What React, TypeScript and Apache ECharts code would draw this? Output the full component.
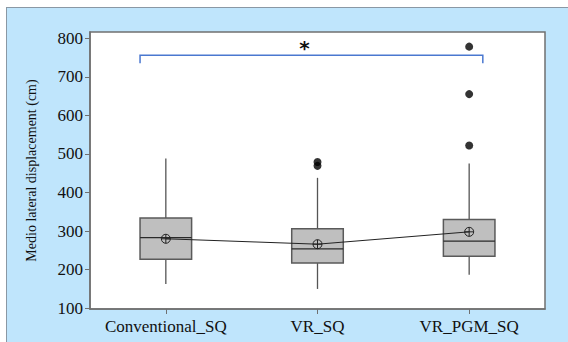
import React, { useEffect, useRef } from "react";
import * as echarts from "echarts";

const categories = ["Conventional_SQ", "VR_SQ", "VR_PGM_SQ"];
const whiskerLow = [163, 150, 187];
const q1 = [227, 217, 235];
const median = [283, 254, 274];
const q3 = [334, 306, 330];
const whiskerHigh = [488, 438, 475];
const means = [280, 266, 298];
const outliers: [number, number][] = [
  [1, 479],
  [1, 469],
  [2, 522],
  [2, 655],
  [2, 778],
];
const yTicks = [100, 200, 300, 400, 500, 600, 700, 800];
const bracketTop = 756;
const bracketBottom = 735;
const bracketLabel = "*";

const SERIF = "Liberation Serif";

export default function App() {
  const ref = useRef<HTMLDivElement>(null);

  useEffect(() => {
    if (!ref.current) return;
    const chart = echarts.init(ref.current, undefined, { renderer: "svg" });

    const boxData = categories.map((_, i) => [
      i,
      whiskerLow[i],
      q1[i],
      median[i],
      q3[i],
      whiskerHigh[i],
    ]);

    chart.setOption({
      animation: false,
      textStyle: { fontFamily: SERIF },
      grid: {
        left: 90,
        top: 32,
        right: 23,
        bottom: 33,
        show: true,
        backgroundColor: "#ffffff",
        borderColor: "#707070",
        borderWidth: 1.5,
      },
      xAxis: {
        type: "category",
        data: categories,
        boundaryGap: true,
        axisLine: { show: true, lineStyle: { color: "#707070", width: 1.5 } },
        axisTick: {
          show: true,
          alignWithLabel: true,
          length: 5,
          lineStyle: { color: "#707070" },
        },
        axisLabel: {
          fontFamily: SERIF,
          fontSize: 17,
          color: "#111",
          margin: 9,
          interval: 0,
          hideOverlap: false,
        },
        splitLine: { show: false },
      },
      yAxis: {
        type: "value",
        min: 98,
        max: 816,
        name: "Medio lateral displacement (cm)",
        nameLocation: "middle",
        nameGap: 52,
        nameTextStyle: { fontFamily: SERIF, fontSize: 14, color: "#111" },
        axisLine: { show: true, lineStyle: { color: "#707070", width: 1.5 } },
        axisTick: {
          show: true,
          length: 5,
          customValues: yTicks,
          lineStyle: { color: "#707070" },
        },
        axisLabel: {
          fontFamily: SERIF,
          fontSize: 17,
          color: "#111",
          margin: 7,
          customValues: yTicks,
        },
        splitLine: { show: false },
      },
      series: [
        {
          type: "custom",
          data: boxData,
          encode: { x: 0, y: [1, 2, 3, 4, 5] },
          z: 2,
          renderItem: (params: any, api: any) => {
            const idx = api.value(0);
            const cx = api.coord([idx, api.value(3)])[0];
            const band = api.size([1, 0])[0];
            const w = band * 0.34;
            const yLow = api.coord([idx, api.value(1)])[1];
            const yQ1 = api.coord([idx, api.value(2)])[1];
            const yMed = api.coord([idx, api.value(3)])[1];
            const yQ3 = api.coord([idx, api.value(4)])[1];
            const yHigh = api.coord([idx, api.value(5)])[1];
            const ws = { stroke: "#555", lineWidth: 1.3 };
            return {
              type: "group",
              children: [
                { type: "line", shape: { x1: cx, y1: yQ1, x2: cx, y2: yLow }, style: ws },
                { type: "line", shape: { x1: cx, y1: yQ3, x2: cx, y2: yHigh }, style: ws },
                {
                  type: "rect",
                  shape: { x: cx - w / 2, y: yQ3, width: w, height: yQ1 - yQ3 },
                  style: { fill: "#bfbfbf", stroke: "#5a5a5a", lineWidth: 1.5 },
                },
                {
                  type: "line",
                  shape: { x1: cx - w / 2, y1: yMed, x2: cx + w / 2, y2: yMed },
                  style: { stroke: "#2a2a2a", lineWidth: 1.2 },
                },
              ],
            };
          },
        },
        {
          type: "line",
          data: means,
          z: 3,
          symbol:
            "path://M0,5A5,5 0 1,1 10,5A5,5 0 1,1 0,5ZM5,0L5,10M0,5L10,5",
          symbolSize: 9,
          showSymbol: true,
          lineStyle: { color: "#222", width: 1 },
          itemStyle: {
            color: "rgba(0,0,0,0)",
            borderColor: "#222",
            borderWidth: 1,
          },
        },
        {
          type: "scatter",
          data: outliers,
          z: 4,
          symbol: "circle",
          symbolSize: 8,
          itemStyle: { color: "#000" },
        },
        {
          type: "custom",
          data: [[0, bracketTop, bracketBottom]],
          z: 5,
          renderItem: (params: any, api: any) => {
            const band = api.size([1, 0])[0];
            const x0 = api.coord([0, api.value(1)])[0] - band * 0.17;
            const x2 = api.coord([2, api.value(1)])[0] + band * 0.09;
            const yT = api.coord([0, api.value(1)])[1];
            const yB = api.coord([0, api.value(2)])[1];
            return {
              type: "group",
              children: [
                {
                  type: "polyline",
                  shape: {
                    points: [
                      [x0, yB],
                      [x0, yT],
                      [x2, yT],
                      [x2, yB],
                    ],
                  },
                  style: { stroke: "#4a78d0", lineWidth: 1.5, fill: "none" },
                },
                {
                  type: "text",
                  x: (x0 + x2) / 2 - 7,
                  y: yT - 7,
                  style: {
                    text: bracketLabel,
                    fill: "#111",
                    fontFamily: "DejaVu Sans",
                    fontWeight: "bold",
                    fontSize: 20,
                    align: "center",
                    verticalAlign: "middle",
                  },
                },
              ],
            };
          },
        },
      ],
    });

    return () => chart.dispose();
  }, []);

  return (
    <div
      style={{
        position: "fixed",
        left: 0,
        top: 0,
        width: 568,
        height: 342,
        background: "#ffffff",
        overflow: "hidden",
      }}
    >
      <div
        style={{
          position: "absolute",
          left: 6,
          top: 7,
          width: 600,
          height: 400,
          background: "#bfe5fc",
          borderLeft: "1px solid #8a98a4",
          borderTop: "1px solid #8a98a4",
        }}
      />
      <div
        ref={ref}
        style={{ position: "absolute", left: 0, top: 0, width: 568, height: 342 }}
      />
    </div>
  );
}
